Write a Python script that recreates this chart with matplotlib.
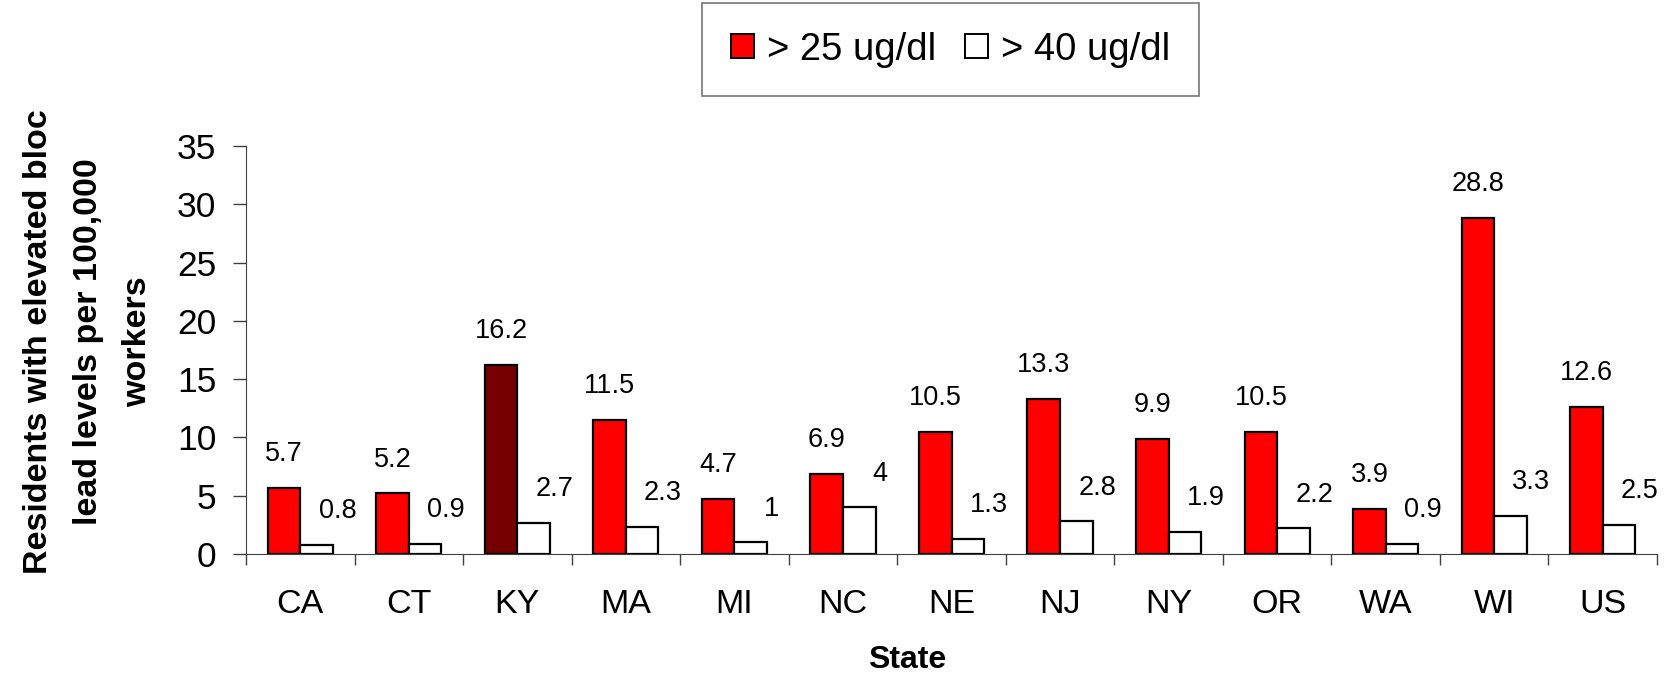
import numpy as np
import matplotlib
matplotlib.use("Agg")
import matplotlib.pyplot as plt
from matplotlib.patches import Patch

plt.rcParams['font.family'] = ['Liberation Sans', 'DejaVu Sans']

states = ["CA", "CT", "KY", "MA", "MI", "NC", "NE", "NJ", "NY", "OR", "WA", "WI", "US"]
over25 = [5.7, 5.2, 16.2, 11.5, 4.7, 6.9, 10.5, 13.3, 9.9, 10.5, 3.9, 28.8, 12.6]
over40 = [0.8, 0.9, 2.7, 2.3, 1, 4, 1.3, 2.8, 1.9, 2.2, 0.9, 3.3, 2.5]
red_labels = ["5.7", "5.2", "16.2", "11.5", "4.7", "6.9", "10.5", "13.3", "9.9", "10.5", "3.9", "28.8", "12.6"]
white_labels = ["0.8", "0.9", "2.7", "2.3", "1", "4", "1.3", "2.8", "1.9", "2.2", "0.9", "3.3", "2.5"]
yticks = [0, 5, 10, 15, 20, 25, 30, 35]

W, H = 1667, 680
fig = plt.figure(figsize=(W / 100, H / 100), dpi=100)
ax = fig.add_axes([246 / W, 1 - 554 / H, (1657 - 246) / W, (554 - 146) / H])

x = np.arange(len(states))
bw = 0.3
red_cols = ["#ff0000"] * len(states)
red_cols[2] = "#760000"   # KY highlighted
bars1 = ax.bar(x - bw / 2, over25, bw, color=red_cols, edgecolor="black", linewidth=1.6, zorder=3)
bars2 = ax.bar(x + bw / 2, over40, bw, color="white", edgecolor="black", linewidth=1.6, zorder=3)

for b, t in zip(bars1, red_labels):
    ax.annotate(t, (b.get_x() + b.get_width() / 2, b.get_height()), xytext=(0, 15),
                textcoords="offset points", ha="center", va="bottom", fontsize=19.5)
for b, t in zip(bars2, white_labels):
    ax.annotate(t, (b.get_x() + b.get_width() / 2, b.get_height()), xytext=(15, 15),
                textcoords="offset points", ha="center", va="bottom", fontsize=19.5)

ax.set_xlim(-0.5, len(states) - 0.5)
ax.set_ylim(0, 35)
ax.set_yticks(yticks)
ax.set_xticks(x)
ax.set_xticklabels(states)
ax.set_xticks(np.arange(-0.5, len(states)), minor=True)
ax.tick_params(axis="x", which="major", length=0, labelsize=24.5, pad=25)
ax.tick_params(axis="x", which="minor", length=8, width=1, color="#404040", direction="out")
ax.tick_params(axis="y", length=9.5, width=1, color="#404040", labelsize=25.5, pad=12)

for s in ["top", "right"]:
    ax.spines[s].set_visible(False)
ax.spines["left"].set_color("#404040")
ax.spines["bottom"].set_color("#404040")

fig.text(907 / W, 1 - 668 / H, "State", ha="center", va="baseline", fontsize=23, fontweight="bold")
fig.text(88 / W, 1 - 342 / H, "Residents with elevated bloc\nlead levels per 100,000\nworkers",
         rotation=90, ha="center", va="center", multialignment="center",
         fontsize=24.5, fontweight="bold", linespacing=1.78)

handles = [Patch(facecolor="#ff0000", edgecolor="black", linewidth=1.4),
           Patch(facecolor="white", edgecolor="black", linewidth=1.4)]
leg = fig.legend(handles, ["> 25 ug/dl", "> 40 ug/dl"], loc="center",
                 bbox_to_anchor=(950.5 / W, 1 - 49.5 / H), ncol=2, fontsize=27.5,
                 frameon=True, fancybox=False, handlelength=0.6, handleheight=0.6,
                 handletextpad=0.35, columnspacing=0.75, borderpad=0.75)
leg.get_frame().set_edgecolor("#555555")
leg.get_frame().set_linewidth(1.2)

fig.savefig("out.png", dpi=100)
